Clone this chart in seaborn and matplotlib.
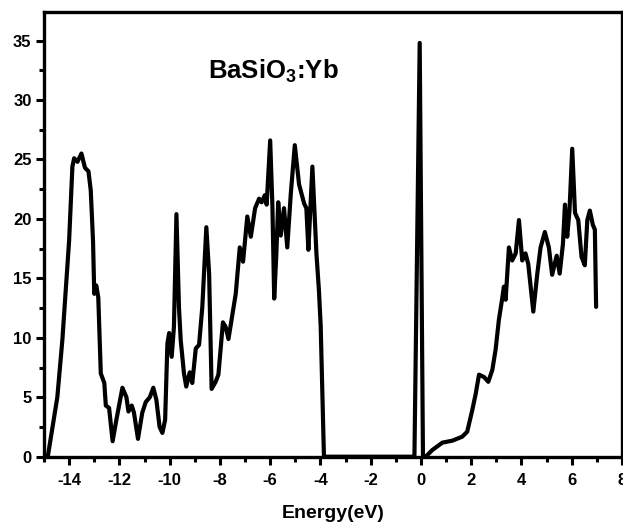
import matplotlib
matplotlib.use("Agg")
import matplotlib.pyplot as plt
from matplotlib.ticker import MultipleLocator
import seaborn as sns
import pandas as pd

energy = [-14.85, -14.47, -14.27, -14.0, -13.87, -13.8, -13.67, -13.51, -13.37, -13.23,
          -13.14, -13.05, -13.0, -12.92, -12.84, -12.74, -12.6, -12.54, -12.41, -12.27,
          -12.12, -11.88, -11.72, -11.64, -11.51, -11.42, -11.26, -11.09, -10.95, -10.79,
          -10.65, -10.53, -10.4, -10.29, -10.18, -10.09, -10.02, -9.92, -9.83, -9.73,
          -9.63, -9.56, -9.43, -9.34, -9.2, -9.1, -8.96, -8.83, -8.7, -8.54,
          -8.43, -8.33, -8.17, -8.06, -7.88, -7.77, -7.66, -7.5, -7.37, -7.21,
          -7.08, -6.91, -6.77, -6.6, -6.44, -6.34, -6.21, -6.14, -6.0, -5.91,
          -5.84, -5.76, -5.68, -5.58, -5.45, -5.32, -5.18, -5.02, -4.85, -4.65,
          -4.56, -4.48, -4.32, -4.22, -4.16, -4.06, -3.99, -3.86,
          -0.26, -0.05, 0.08, 0.19, 0.45, 0.85, 1.25, 1.64, 1.84, 2.04, 2.18, 2.31,
          2.51, 2.68, 2.84, 2.97, 3.1, 3.24, 3.3, 3.37, 3.5, 3.63,
          3.77, 3.9, 4.03, 4.16, 4.27, 4.47, 4.63, 4.76, 4.93, 5.09,
          5.22, 5.4, 5.52, 5.65, 5.73, 5.82, 5.91, 6.02, 6.13, 6.26,
          6.39, 6.52, 6.62, 6.72, 6.84, 6.92, 6.97]

dos = [0, 5.0, 9.8, 18.2, 24.4, 25.1, 24.8, 25.5, 24.3, 24.0,
       22.4, 18.2, 13.7, 14.4, 13.4, 7.0, 6.2, 4.3, 4.1, 1.3,
       3.1, 5.8, 5.0, 3.8, 4.3, 3.7, 1.5, 3.7, 4.6, 5.0,
       5.8, 4.8, 2.5, 2.0, 3.1, 9.5, 10.4, 8.4, 10.9, 20.4,
       12.6, 9.8, 7.0, 5.9, 7.1, 6.2, 9.1, 9.4, 12.6, 19.3,
       15.4, 5.7, 6.3, 6.9, 11.3, 10.9, 9.9, 12.0, 13.7, 17.6,
       16.4, 20.2, 18.5, 20.9, 21.7, 21.4, 22.0, 21.2, 26.6, 21.0,
       13.3, 16.8, 21.4, 18.6, 20.9, 17.6, 22.1, 26.2, 22.9, 21.3,
       20.9, 17.4, 24.4, 19.9, 17.1, 14.0, 11.0, 0,
       0, 34.8, 0, 0, 0.56, 1.18, 1.35, 1.68, 2.1, 3.9, 5.3, 6.9,
       6.7, 6.3, 7.3, 9.0, 11.5, 13.4, 14.3, 13.2, 17.6, 16.5,
       17.1, 19.9, 16.5, 17.1, 16.2, 12.2, 15.4, 17.6, 18.9, 17.6,
       15.3, 16.9, 15.4, 17.9, 21.2, 18.5, 20.7, 25.9, 20.5, 19.9,
       16.8, 16.1, 19.9, 20.7, 19.5, 19.1, 12.6]

x_ticks = [-14, -12, -10, -8, -6, -4, -2, 0, 2, 4, 6, 8]
y_ticks = [0, 5, 10, 15, 20, 25, 30, 35]
title_text = r"BaSiO$_\mathbf{3}$:Yb"
x_label = "Energy(eV)"

sns.set_style("white")
plt.rcParams["font.family"] = ["Liberation Sans", "DejaVu Sans"]
plt.rcParams["axes.unicode_minus"] = False
plt.rcParams["mathtext.fontset"] = "custom"
plt.rcParams["mathtext.bf"] = "Liberation Sans:bold"
plt.rcParams["mathtext.rm"] = "Liberation Sans"
plt.rcParams["text.color"] = "black"
plt.rcParams["axes.labelcolor"] = "black"
plt.rcParams["xtick.color"] = "black"
plt.rcParams["ytick.color"] = "black"

df = pd.DataFrame({"Energy": energy, "DOS": dos})

fig = plt.figure(figsize=(6.23, 5.23), dpi=100)
W, H = 623, 523
left, right, top, bottom = 44, 622, 12, 456.7
ax = fig.add_axes([left / W, (H - bottom) / H, (right - left) / W, (bottom - top) / H])

sns.lineplot(data=df, x="Energy", y="DOS", ax=ax, sort=False, estimator=None,
             color="black", linewidth=3.0)
for l in ax.lines:
    l.set_solid_joinstyle("round")
    l.set_solid_capstyle("round")

ax.set_xlim(-15, 8)
ax.set_ylim(0, 37.4)
ax.set_xticks(x_ticks)
ax.set_yticks(y_ticks)
ax.xaxis.set_minor_locator(MultipleLocator(1))
ax.yaxis.set_minor_locator(MultipleLocator(2.5))
ax.tick_params(axis="both", which="major", direction="out", length=6, width=2.2,
               labelsize=12, bottom=True, left=True, colors="black")
ax.tick_params(axis="x", which="major", pad=6)
ax.tick_params(axis="y", which="major", pad=3)
ax.tick_params(axis="both", which="minor", direction="out", length=3.5, width=2.2,
               bottom=True, left=True, colors="black")
for lab in ax.get_xticklabels() + ax.get_yticklabels():
    lab.set_fontweight("bold")
    lab.set_color("black")

for s in ax.spines.values():
    s.set_linewidth(2.4)
    s.set_color("black")
    s.set_visible(True)

ax.set_xlabel(x_label, fontsize=14, fontweight="bold", labelpad=12, color="black")
ax.set_ylabel("")
ax.text(-5.87, 31.8, title_text, fontsize=18.5, fontweight="bold", ha="center",
        va="baseline", color="black")

fig.savefig("out.png", dpi=100)
